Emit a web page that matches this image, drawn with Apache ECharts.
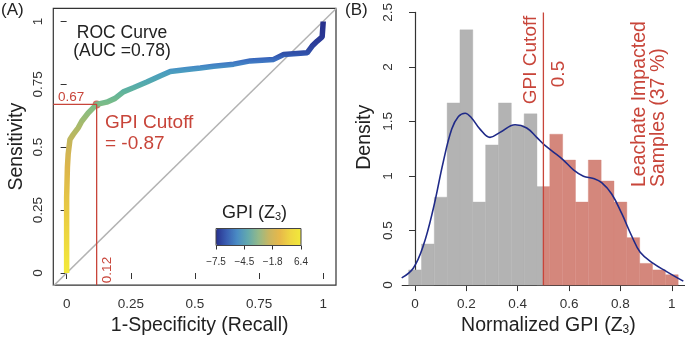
<!DOCTYPE html>
<html>
<head>
<meta charset="utf-8">
<script src="https://cdn.jsdelivr.net/npm/echarts@6/dist/echarts.min.js"></script>
<style>
html, body { margin: 0; padding: 0; background: #fff; }
#chart { width: 685px; height: 341px; }
</style>
</head>
<body>
<div id="chart"></div>
<script>
// panel A: ROC curve
var rocFpr = [0, 0, 0.003, 0.006, 0.013, 0.026, 0.045, 0.059, 0.084, 0.117, 0.156, 0.189, 0.221, 0.26, 0.3125, 0.364, 0.404, 0.469, 0.521, 0.573, 0.651, 0.716, 0.807, 0.846, 0.9375, 0.957, 0.977, 0.996, 1.0, 1.0]
var rocTpr = [0, 0.3, 0.42, 0.473, 0.531, 0.551, 0.577, 0.603, 0.636, 0.67, 0.679, 0.694, 0.72, 0.736, 0.759, 0.783, 0.801, 0.809, 0.815, 0.822, 0.83, 0.843, 0.849, 0.868, 0.875, 0.902, 0.922, 0.938, 0.996, 1.0]
var cutoffFpr = 0.117
var cutoffTpr = 0.67
var rocTicks = [0, 0.25, 0.5, 0.75, 1]
var gpiTicks = ['\u22127.5', '\u22124.5', '\u22121.8', '6.4']

// panel B: histogram of normalized GPI
var binMids = [0, 0.05, 0.1, 0.15, 0.2, 0.25, 0.3, 0.35, 0.4, 0.45, 0.5, 0.55, 0.6, 0.65, 0.7, 0.75, 0.8, 0.85, 0.9, 0.95, 1.0]
var binDensity = [0.139, 0.377, 0.806, 1.67, 2.34, 0.761, 1.285, 1.67, 1.463, 1.57, 0.903, 1.383, 1.146, 0.761, 1.146, 0.954, 0.761, 0.435, 0.199, 0.139, 0.095]
var binWidth = 0.05
var gpiCutoff = 0.5
var kdeX = [-0.052, -0.007, 0.032, 0.071, 0.110, 0.143, 0.169, 0.195, 0.221, 0.253, 0.292, 0.331, 0.39, 0.435, 0.474, 0.506, 0.539, 0.578, 0.617, 0.656, 0.695, 0.727, 0.766, 0.805, 0.844, 0.877, 0.928, 0.98, 1.045]
var kdeY = [0.066, 0.155, 0.36, 0.70, 1.13, 1.43, 1.545, 1.576, 1.53, 1.43, 1.354, 1.40, 1.47, 1.44, 1.354, 1.28, 1.22, 1.146, 1.057, 0.998, 0.977, 0.939, 0.835, 0.657, 0.45, 0.302, 0.199, 0.124, 0.036]
var histTicks = [0, 0.2, 0.4, 0.6, 0.8, 1]

var font = 'Liberation Sans, Arial, sans-serif'
var red = '#c8453a'
var ink = '#333'

// colour of the ROC line against sensitivity (the GPI runs along the curve)
var rocStops = [
  [0, '#f3ea3a'], [0.2, '#ebd040'], [0.42, '#dcb54b'], [0.5, '#cdb556'], [0.58, '#acb968'],
  [0.64, '#8cbc7e'], [0.68, '#76bb8a'], [0.72, '#60b39c'], [0.76, '#52a8b0'], [0.8, '#4a9cc0'],
  [0.815, '#4690c4'], [0.83, '#4280c4'], [0.845, '#3c70c0'], [0.855, '#3865bb'], [0.87, '#3152aa'],
  [0.9, '#2d429e'], [0.94, '#2a3794'], [1, '#27308c']
]
var barColors = ['#28318e', '#3a5fb2', '#4a8cc4', '#63a9ad', '#93b98a', '#c9b661', '#e7b84a', '#efd642', '#f1e93a']

function mix (c1, c2, t) {
  var a = parseInt(c1.slice(1), 16)
  var b = parseInt(c2.slice(1), 16)
  var out = '#'
  for (var s = 16; s >= 0; s -= 8) {
    var v = Math.round(((a >> s) & 255) * (1 - t) + ((b >> s) & 255) * t)
    out += (v < 16 ? '0' : '') + v.toString(16)
  }
  return out
}

function rocPalette () {
  var list = []
  for (var i = 0; i <= 200; i++) {
    var y = i / 200
    var k = 0
    while (k < rocStops.length - 2 && rocStops[k + 1][0] < y) k++
    var s0 = rocStops[k]
    var s1 = rocStops[k + 1]
    list.push(mix(s0[1], s1[1], Math.min(1, Math.max(0, (y - s0[0]) / (s1[0] - s0[0])))))
  }
  return list
}

function pairs (xs, ys) {
  return xs.map(function (x, i) { return [x, ys[i]] })
}

function txt (text, x, y, size, color, opts) {
  opts = opts || {}
  return {
    type: 'text',
    x: x,
    y: y,
    rotation: opts.rot ? Math.PI / 2 : 0,
    style: {
      text: text,
      fontSize: size,
      fontFamily: font,
      fill: color,
      align: opts.align || 'center',
      verticalAlign: 'middle',
      rich: opts.rich
    }
  }
}

var chart = echarts.init(document.getElementById('chart'))
chart.setOption({
  animation: false,
  backgroundColor: '#fff',
  grid: [
    { left: 53.3, top: 8.3, width: 282.7, height: 281.7, show: true, borderColor: ink, borderWidth: 1.2 },
    { left: 402.2, top: 9.3, width: 282.4, height: 281.4 },
    { left: 216, top: 228.5, width: 85, height: 17, show: true, borderColor: '#444', borderWidth: 1, z: 10 }
  ],
  xAxis: [
    {
      gridIndex: 0, type: 'value', min: -0.052, max: 1.05,
      axisLine: { show: false },
      axisTick: { customValues: rocTicks, length: 6, lineStyle: { color: ink } },
      axisLabel: { customValues: rocTicks, fontSize: 13.5, color: ink, fontFamily: font, margin: 12 },
      splitLine: { show: false },
      name: '1-Specificity (Recall)', nameLocation: 'middle', nameGap: 29,
      nameTextStyle: { fontSize: 19.5, color: '#222', fontFamily: font, padding: [0, 0, 0, 10] }
    },
    {
      gridIndex: 1, type: 'value', min: -0.05, max: 1.05,
      axisLine: { show: true, onZero: false, lineStyle: { color: ink, width: 1.2 } },
      axisTick: { customValues: histTicks, length: 6, lineStyle: { color: ink } },
      axisLabel: { customValues: histTicks, fontSize: 13.5, color: ink, fontFamily: font, margin: 12 },
      splitLine: { show: false },
      name: '{a|Normalized GPI (Z}{s|3}{a|)}', nameLocation: 'middle', nameGap: 29,
      nameTextStyle: {
        color: '#222', fontFamily: font, padding: [0, 0, 0, 10],
        rich: {
          a: { fontSize: 19.5, color: '#222', fontFamily: font },
          s: { fontSize: 12, color: '#222', fontFamily: font, padding: [8, 0, 0, 0] }
        }
      }
    },
    {
      gridIndex: 2, type: 'value', min: 0, max: 3, interval: 1,
      axisLine: { show: false },
      axisTick: { length: 4, lineStyle: { color: ink } },
      axisLabel: {
        fontSize: 10, color: ink, fontFamily: font, margin: 12, showMinLabel: true, showMaxLabel: true,
        formatter: function (v) { return gpiTicks[v] }
      },
      splitLine: { show: false }
    }
  ],
  yAxis: [
    {
      gridIndex: 0, type: 'value', min: -0.048, max: 1.052,
      axisLine: { show: false },
      axisTick: { customValues: rocTicks, length: 6, lineStyle: { color: ink } },
      axisLabel: { customValues: rocTicks, rotate: 90, fontSize: 13.5, color: ink, fontFamily: font, margin: 8 },
      splitLine: { show: false },
      name: 'Sensitivity', nameLocation: 'middle', nameGap: 27,
      nameTextStyle: { fontSize: 19.5, color: '#222', fontFamily: font }
    },
    {
      gridIndex: 1, type: 'value', min: 0, max: 2.5, interval: 0.5,
      axisLine: { show: true, lineStyle: { color: ink, width: 1.2 } },
      axisTick: { length: 6, lineStyle: { color: ink } },
      axisLabel: { rotate: 90, fontSize: 13.5, color: ink, fontFamily: font, margin: 7 },
      splitLine: { show: false },
      name: 'Density', nameLocation: 'middle', nameGap: 28,
      nameTextStyle: { fontSize: 19.5, color: '#222', fontFamily: font, padding: [0, 0, 0, 23] }
    },
    { gridIndex: 2, type: 'value', show: false, min: 0, max: 1 }
  ],
  visualMap: [
    {
      type: 'continuous', show: false, seriesIndex: 1, dimension: 1, min: 0, max: 1,
      inRange: { color: rocPalette() }
    },
    {
      type: 'continuous', show: true, seriesIndex: 4, min: -7.5, max: 6.4,
      orient: 'horizontal', left: 216, top: 228.5, itemWidth: 17, itemHeight: 85,
      padding: 0, calculable: false, hoverLink: false, text: null,
      inRange: { color: barColors }
    }
  ],
  series: [
    {
      type: 'line', xAxisIndex: 0, yAxisIndex: 0, symbol: 'none', silent: true,
      data: [[-0.052, -0.052], [1.052, 1.052]],
      lineStyle: { color: '#b3b3b3', width: 1.5 }
    },
    {
      type: 'line', xAxisIndex: 0, yAxisIndex: 0, symbol: 'none', silent: true,
      data: pairs(rocFpr, rocTpr),
      lineStyle: { width: 5.5 }
    },
    {
      type: 'line', xAxisIndex: 0, yAxisIndex: 0, symbol: 'none', silent: true,
      data: [[-0.052, cutoffTpr], [cutoffFpr, cutoffTpr], [cutoffFpr, -0.048]],
      lineStyle: { color: red, width: 1.3 }
    },
    {
      type: 'scatter', xAxisIndex: 0, yAxisIndex: 0, silent: true,
      data: [[cutoffFpr, cutoffTpr]], symbolSize: 8,
      itemStyle: { color: red }
    },
    { type: 'scatter', xAxisIndex: 2, yAxisIndex: 2, data: [] },
    {
      type: 'custom', xAxisIndex: 1, yAxisIndex: 1, silent: true,
      data: pairs(binMids, binDensity),
      encode: { x: 0, y: 1 },
      renderItem: function (params, api) {
        var mid = api.value(0)
        var h = api.value(1)
        var x0 = mid - binWidth / 2
        var x1 = mid + binWidth / 2
        var parts = []
        if (x0 < gpiCutoff) parts.push([x0, Math.min(x1, gpiCutoff), '#b3b3b3'])
        if (x1 > gpiCutoff) parts.push([Math.max(x0, gpiCutoff), x1, '#d4877c'])
        return {
          type: 'group',
          children: parts.map(function (p) {
            var a = api.coord([p[0], h])
            var b = api.coord([p[1], 0])
            return {
              type: 'rect',
              shape: { x: a[0], y: a[1], width: b[0] - a[0], height: b[1] - a[1] },
              style: { fill: p[2], stroke: p[2], lineWidth: 0.4 }
            }
          })
        }
      }
    },
    {
      type: 'line', xAxisIndex: 1, yAxisIndex: 1, symbol: 'none', silent: true, smooth: 0.4,
      data: pairs(kdeX, kdeY),
      lineStyle: { color: '#1f2a88', width: 1.6 }
    },
    {
      type: 'line', xAxisIndex: 1, yAxisIndex: 1, symbol: 'none', silent: true,
      data: [[gpiCutoff, 0], [gpiCutoff, 2.5]],
      lineStyle: { color: red, width: 1.3 }
    }
  ],
  graphic: [
    txt('(A)', 1, 10, 17, '#222', { align: 'left' }),
    txt('(B)', 345, 10, 17, '#222', { align: 'left' }),
    txt('ROC Curve', 122, 33, 17.5, '#222'),
    txt('(AUC =0.78)', 122, 51, 17.5, '#222'),
    txt('0.67', 58, 97.5, 13.5, red, { align: 'left' }),
    txt('GPI Cutoff', 105, 123, 19, red, { align: 'left' }),
    txt('= -0.87', 105, 143.5, 19, red, { align: 'left' }),
    txt('0.12', 107.5, 270, 13.5, red, { rot: true }),
    txt('{a|GPI (Z}{s|3}{a|)}', 254.5, 213, 18, '#222', {
      rich: {
        a: { fontSize: 18, fontFamily: font, fill: '#222' },
        s: { fontSize: 11, fontFamily: font, fill: '#222', padding: [7, 0, 0, 0] }
      }
    }),
    txt('GPI Cutoff', 531, 60, 19, red, { rot: true }),
    txt('0.5', 559, 74, 19, red, { rot: true }),
    txt('Leachate Impacted', 639.5, 187, 19.5, red, { rot: true, align: 'left' }),
    txt('Samples (37 %)', 659, 187, 19.5, red, { rot: true, align: 'left' })
  ]
})
</script>
</body>
</html>
